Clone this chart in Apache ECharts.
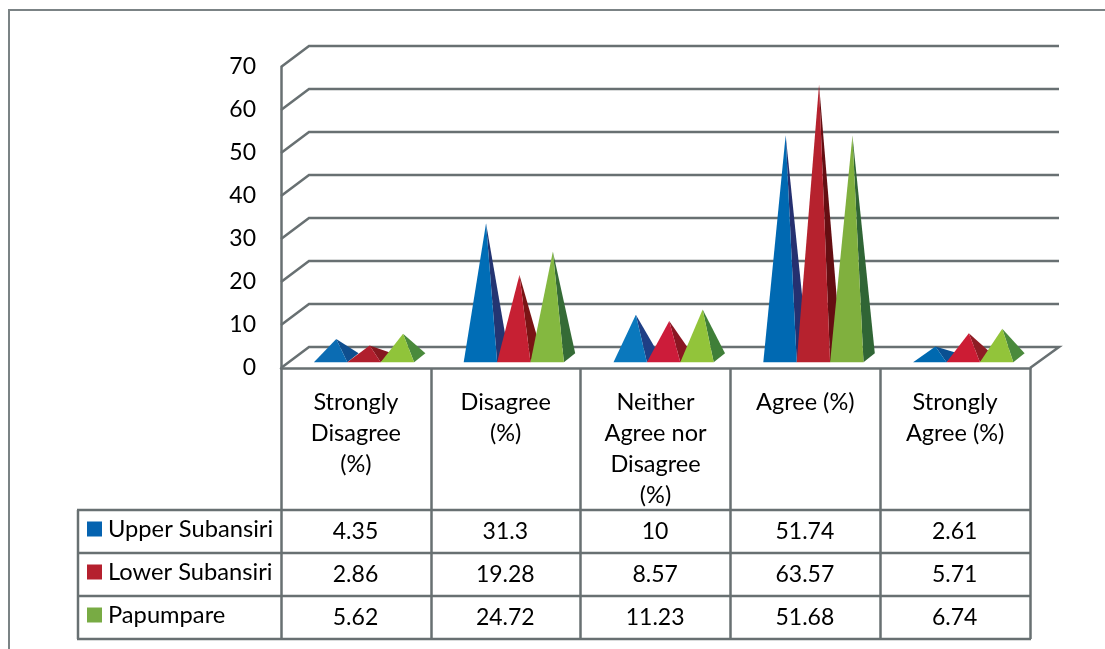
<!DOCTYPE html>
<html>
<head>
<meta charset="utf-8">
<title>Responses by district</title>
<script src="https://cdn.jsdelivr.net/npm/echarts@6/dist/echarts.min.js"></script>
<style>
  html, body { margin: 0; padding: 0; background: #fff; }
  #chart { width: 1105px; height: 649px; }
</style>
</head>
<body>
<div id="chart"></div>
<script>
  const categories = ['Strongly\nDisagree\n(%)', 'Disagree\n(%)', 'Neither\nAgree nor\nDisagree\n(%)', 'Agree (%)', 'Strongly\nAgree (%)'];
  const seriesNames = ['Upper Subansiri', 'Lower Subansiri', 'Papumpare'];
  const upperSubansiri = [4.35, 31.3, 10, 51.74, 2.61];
  const lowerSubansiri = [2.86, 19.28, 8.57, 63.57, 5.71];
  const papumpare = [5.62, 24.72, 11.23, 51.68, 6.74];
  const yTicks = [0, 10, 20, 30, 40, 50, 60, 70];

  const seriesValues = [upperSubansiri, lowerSubansiri, papumpare];
  const legendColors = ['#0563b0', '#b5202e', '#78ab44'];
  const frontColors = [
    ['#0b6cb3', '#006db6', '#0a78bd', '#0069b2', '#0069b0'],
    ['#b01f2d', '#c62033', '#cc1c3a', '#b6222e', '#cc1c34'],
    ['#90c43a', '#84b840', '#92c43a', '#80b03e', '#92c43a']
  ];
  const sideColors = [
    ['#0f4f8f', '#243572', '#1f3f86', '#253070', '#0a5092'],
    ['#86181f', '#7a1414', '#8a1622', '#650e12', '#8e1c24'],
    ['#4a8a3c', '#356b36', '#3f7f38', '#306535', '#4a8a3c']
  ];

  const lineColor = '#687072';
  const lineWidth = 2.5;
  const textFont = 'Lato';
  const fontSize = 23;
  const labelSize = 23.5;
  const wallDx = 28, wallDy = -21;
  const tableLeft = 78, tableRows = [510, 553, 596, 639];

  const chart = echarts.init(document.getElementById('chart'));

  // back wall and floor lines, the "3D" box behind the pyramids
  function renderWall(params, api) {
    const box = params.coordSys;
    const p = api.coord([0, api.value(0)]);
    const y = p[1];
    const x0 = box.x, x1 = box.x + box.width;
    const points = [[x0, y], [x0 + wallDx, y + wallDy], [x1 + wallDx + 1, y + wallDy]];
    if (api.value(0) === 0) points.push([x1, y]);
    return {
      type: 'polyline',
      shape: { points: points },
      style: { stroke: lineColor, lineWidth: lineWidth, fill: null }
    };
  }

  function pyramidRenderer(s) {
    return function (params, api) {
      const i = api.value(0);
      const centre = api.coord([i, 0]);
      const top = api.coord([i, api.value(1)]);
      const w = 33.4;
      const left = centre[0] - 42 + s * w;
      const right = left + w;
      const frontY = centre[1] - 5.7;
      const backDx = 11.3, backDy = -9;
      const apex = [left + w / 2 + backDx / 2, top[1] + frontY - centre[1] + backDy / 2];
      return {
        type: 'group',
        children: [
          {
            type: 'polygon',
            shape: { points: [[right, frontY], [right + backDx, frontY + backDy], apex] },
            style: { fill: sideColors[s][i] }
          },
          {
            type: 'polygon',
            shape: { points: [[left, frontY], [right, frontY], apex] },
            style: { fill: frontColors[s][i] }
          }
        ]
      };
    };
  }

  // data table under the plot
  const tableGraphics = [];
  tableRows.forEach(function (y) {
    tableGraphics.push({
      type: 'line',
      shape: { x1: tableLeft - 1, y1: y, x2: 1031, y2: y },
      style: { stroke: lineColor, lineWidth: lineWidth }
    });
  });
  tableGraphics.push({
    type: 'line',
    shape: { x1: tableLeft, y1: tableRows[0], x2: tableLeft, y2: tableRows[3] },
    style: { stroke: lineColor, lineWidth: lineWidth }
  });
  seriesValues.forEach(function (values, r) {
    values.forEach(function (v, c) {
      tableGraphics.push({
        type: 'text',
        x: 355.5 + 149.8 * c,
        y: (tableRows[r] + tableRows[r + 1]) / 2 + 0.5,
        style: {
          text: String(v),
          fill: '#000',
          font: fontSize + 'px ' + textFont,
          textAlign: 'center',
          textVerticalAlign: 'middle'
        }
      });
    });
  });
  // outer frame, only top and left are visible
  tableGraphics.push({
    type: 'polyline',
    shape: { points: [[9, 649], [9, 10], [1105, 10]] },
    style: { stroke: '#7b8385', lineWidth: 2, fill: null }
  });

  const series = [{
    name: 'wall',
    type: 'custom',
    silent: true,
    renderItem: renderWall,
    data: yTicks.map(function (t) { return [t]; }),
    z: 1
  }];
  seriesValues.forEach(function (values, s) {
    series.push({
      name: seriesNames[s],
      type: 'custom',
      renderItem: pyramidRenderer(s),
      itemStyle: { color: legendColors[s] },
      encode: { x: 0, y: 1 },
      data: values.map(function (v, i) { return [i, v]; }),
      z: 2 + s
    });
  });

  const option = {
    backgroundColor: '#fff',
    animation: false,
    textStyle: { fontFamily: textFont },
    grid: { left: 281, top: 67, width: 749, height: 301 },
    legend: {
      data: seriesNames.map(function (n) { return { name: n, icon: 'rect' }; }),
      orient: 'vertical',
      left: 82,
      top: 512,
      itemWidth: 15,
      itemHeight: 15,
      itemGap: 19,
      selectedMode: false,
      align: 'left',
      textStyle: { color: '#000', fontSize: 23.7, lineHeight: 24, fontFamily: textFont, padding: [-2, 0, 0, 1] }
    },
    xAxis: {
      type: 'category',
      data: categories,
      axisLine: { show: true, lineStyle: { color: lineColor, width: lineWidth } },
      axisTick: { show: true, length: 271, lineStyle: { color: lineColor, width: lineWidth } },
      axisLabel: {
        interval: 0,
        margin: 19,
        color: '#000',
        fontSize: labelSize,
        fontFamily: textFont,
        lineHeight: 31,
        verticalAlign: 'top'
      }
    },
    yAxis: {
      type: 'value',
      min: 0,
      max: 70,
      interval: 10,
      axisLine: { show: true, lineStyle: { color: lineColor, width: lineWidth } },
      axisTick: { show: false },
      splitLine: { show: false },
      axisLabel: { margin: 25, color: '#000', fontSize: fontSize, fontFamily: textFont, padding: [0, 0, 5, 0], lineHeight: 23 }
    },
    graphic: tableGraphics,
    series: series
  };
  chart.setOption(option);
</script>
</body>
</html>
